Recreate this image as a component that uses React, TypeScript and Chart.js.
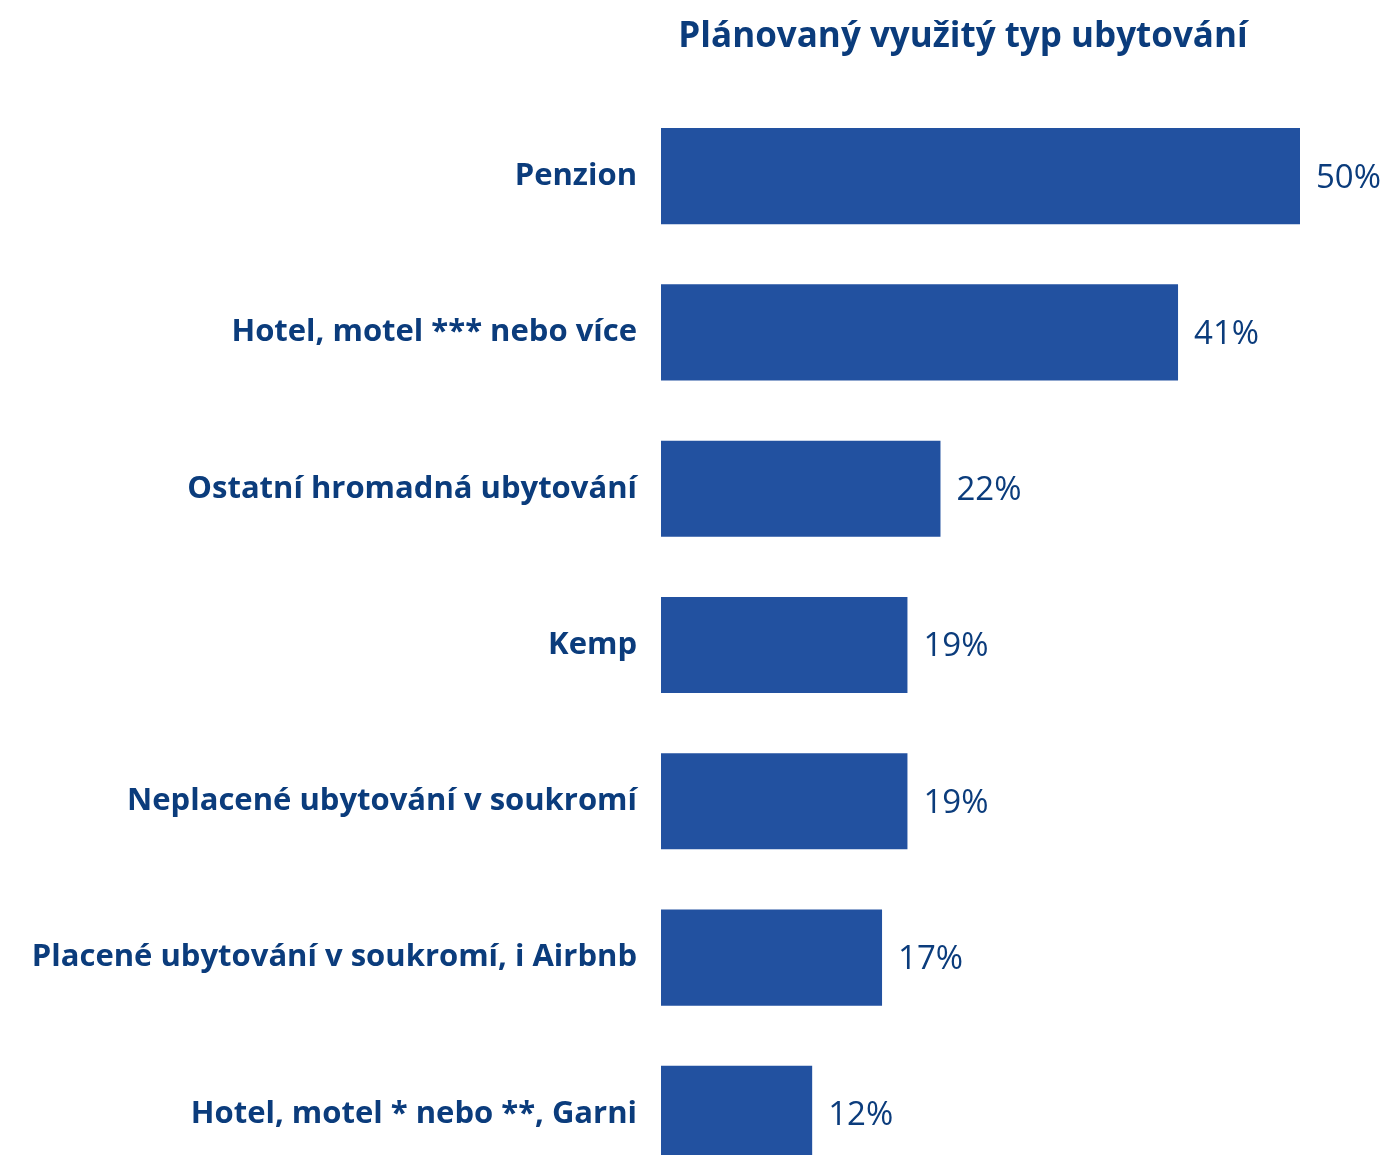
import React, { useEffect, useRef } from "react";
import { Chart, registerables } from "chart.js";

Chart.register(...registerables);

const TITLE = "Plánovaný využitý typ ubytování";
const categories = [
  "Penzion",
  "Hotel, motel *** nebo více",
  "Ostatní hromadná ubytování",
  "Kemp",
  "Neplacené ubytování v soukromí",
  "Placené ubytování v soukromí, i Airbnb",
  "Hotel, motel * nebo **, Garni",
];
const values = [50.3, 40.7, 22.0, 19.4, 19.4, 17.4, 11.9];
const valueLabels = ["50%", "41%", "22%", "19%", "19%", "17%", "12%"];

const BAR_COLOR = "#2251A0";
const TEXT_COLOR = "#0B3C7C";
const FONT = "'Open Sans', 'Noto Sans', sans-serif";

export default function App() {
  const ref = useRef<HTMLCanvasElement | null>(null);

  useEffect(() => {
    if (!ref.current) return;
    const titlePlugin = {
      id: "customTitle",
      afterDraw(chart: any) {
        const ctx = chart.ctx;
        ctx.save();
        ctx.font = `bold 35px ${FONT}`;
        ctx.fillStyle = TEXT_COLOR;
        ctx.textAlign = "center";
        ctx.textBaseline = "middle";
        ctx.fillText(TITLE, 963, 37);
        ctx.restore();
      },
    };
    const labelPlugin = {
      id: "valueLabels",
      afterDatasetsDraw(chart: any) {
        const ctx = chart.ctx;
        const meta = chart.getDatasetMeta(0);
        ctx.save();
        ctx.font = `33px ${FONT}`;
        ctx.fillStyle = TEXT_COLOR;
        ctx.textAlign = "left";
        ctx.textBaseline = "middle";
        meta.data.forEach((bar: any, i: number) => {
          ctx.fillText(valueLabels[i], bar.x + 16, bar.y + 2);
        });
        ctx.restore();
      },
    };
    const chart = new Chart(ref.current, {
      type: "bar",
      data: {
        labels: categories,
        datasets: [
          {
            data: values,
            backgroundColor: BAR_COLOR,
            borderWidth: 0,
            categoryPercentage: 1,
            barPercentage: 0.615,
          },
        ],
      },
      options: {
        indexAxis: "y",
        responsive: false,
        animation: false,
        layout: { padding: { top: 98, bottom: 60, left: 0, right: 41 } },
        plugins: {
          legend: { display: false },
          title: { display: false },
          tooltip: { enabled: false },
        },
        scales: {
          x: {
            display: false,
            min: 0,
            max: 54,
          },
          y: {
            border: { display: false },
            grid: { display: false, drawTicks: false },
            ticks: {
              padding: 24,
              color: TEXT_COLOR,
              font: { family: FONT, size: 31, weight: "bold" },
            },
            afterFit(scale: any) {
              scale.width = 661;
            },
          },
        },
      },
      plugins: [titlePlugin, labelPlugin],
    });
    return () => chart.destroy();
  }, []);

  return (
    <div
      style={{
        position: "fixed",
        left: 0,
        top: 0,
        width: 1388,
        height: 1155,
        overflow: "hidden",
        background: "#fff",
      }}
    >
      <canvas ref={ref} width={1388} height={1252} style={{ display: "block" }} />
    </div>
  );
}
